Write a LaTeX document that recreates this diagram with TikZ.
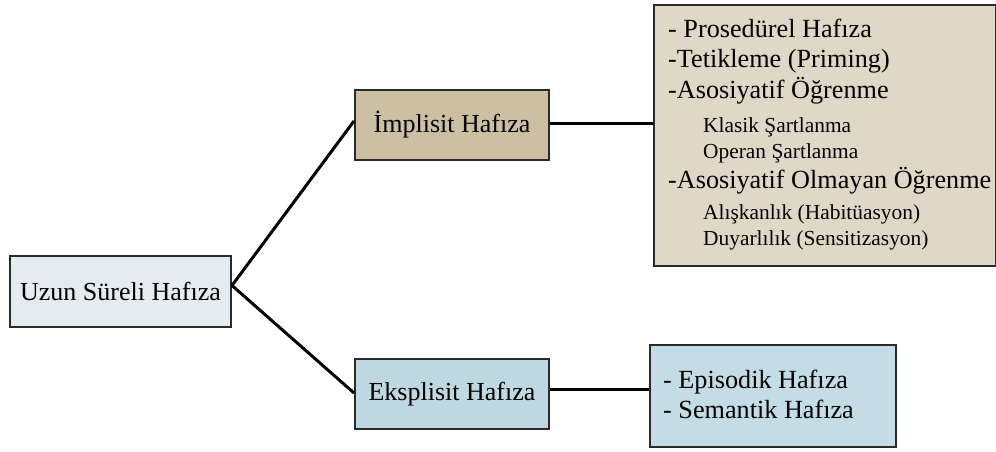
\documentclass[tikz,border=0pt]{standalone}
\usepackage{fontspec}
\setmainfont{Liberation Serif}
\usetikzlibrary{calc}
\definecolor{uzunfill}{HTML}{E4ECF0}
\definecolor{impfill}{HTML}{CDC0A2}
\definecolor{implist}{HTML}{DFD8C7}
\definecolor{eksfill}{HTML}{BFD9E3}
\definecolor{ekslist}{HTML}{C3DCE6}
\definecolor{edge}{HTML}{2A2A2A}
\tikzset{
  box/.style={draw=edge, line width=2pt, inner sep=0pt, anchor=north west, text=black},
  lbl/.style={font=\fontsize{26}{30}\selectfont},
  mainitem/.style={anchor=base west, inner sep=0pt, font=\fontsize{26.2}{30}\selectfont},
  subitem/.style={anchor=base west, inner sep=0pt, font=\fontsize{21.4}{25}\selectfont},
  link/.style={line width=3pt, black},
}
\begin{document}
\begin{tikzpicture}[x=1pt, y=-1pt]
\useasboundingbox (0,0) rectangle (996,452);
% boxes
\node[box, lbl, fill=uzunfill, minimum width=221pt, minimum height=71pt] (uzun) at (9,255) {Uzun Süreli Hafıza};
\node[box, lbl, fill=impfill, minimum width=194pt, minimum height=70pt] (imp) at (354,89) {İmplisit Hafıza};
\node[box, lbl, fill=eksfill, minimum width=194pt, minimum height=70pt] (eks) at (354,358) {Eksplisit Hafıza};
\node[box, fill=implist, minimum width=342pt, minimum height=261pt] (implst) at (653,4) {};
\node[box, fill=ekslist, minimum width=246pt, minimum height=102pt] (ekslst) at (649,344) {};
% list texts (implicit)
\node[mainitem] (i1) at (668,38) {- Prosedürel Hafıza};
\node[mainitem] (i2) at (668,68) {-Tetikleme (Priming)};
\node[mainitem] (i3) at (668,98) {-Asosiyatif Öğrenme};
\node[subitem] (i4) at (703,132) {Klasik Şartlanma};
\node[subitem] (i5) at (703,158) {Operan Şartlanma};
\node[mainitem] (i6) at (668,188) {-Asosiyatif Olmayan Öğrenme};
\node[subitem] (i7) at (703,219) {Alışkanlık (Habitüasyon)};
\node[subitem] (i8) at (703,245) {Duyarlılık (Sensitizasyon)};
% list texts (explicit)
\node[mainitem] (e1) at (663,388) {- Episodik Hafıza};
\node[mainitem] (e2) at (663,418) {- Semantik Hafıza};
% connector end points
\coordinate (uzunout) at ($(uzun.east)+(0,-6)$);
\coordinate (impin) at ($(imp.west)+(0,-4)$);
\coordinate (eksin) at ($(eks.west)+(0,-1)$);
\coordinate (impout) at ($(imp.east)+(0,-1.5)$);
\coordinate (eksout) at ($(eks.east)+(0,-4.5)$);
% connectors
\draw[link] (uzunout) -- (impin);
\draw[link] (uzunout) -- (eksin);
\draw[link] (impout) -- (impout -| implst.west);
\draw[link] (eksout) -- (eksout -| ekslst.west);
\end{tikzpicture}
\end{document}
